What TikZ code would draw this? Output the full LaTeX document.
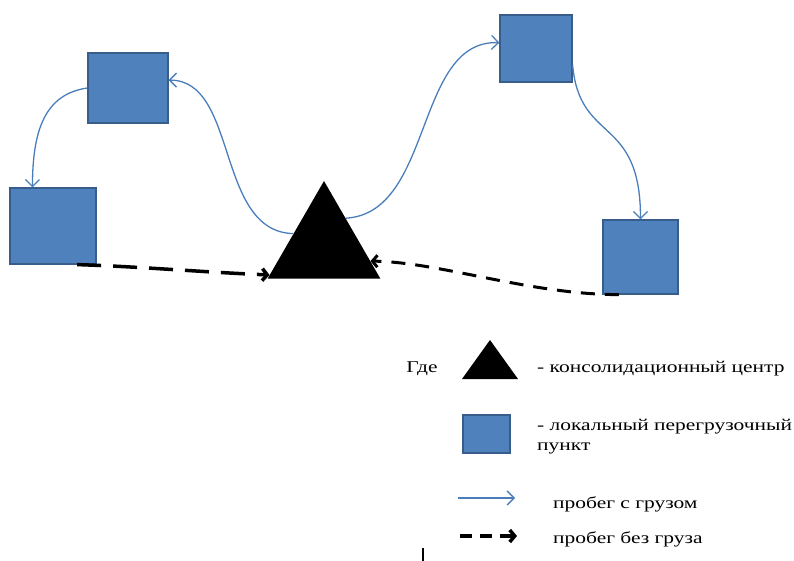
\documentclass[tikz,border=0pt]{standalone}
\usepackage{fontspec}
\setmainfont{Liberation Serif}[FakeStretch=1.3]
\usetikzlibrary{shapes.geometric, arrows.meta}
\definecolor{boxblue}{RGB}{79,129,189}
\definecolor{boxedge}{RGB}{56,93,138}
\definecolor{runblue}{RGB}{74,126,187}
\tikzset{
  depot/.style={rectangle, draw=boxedge, fill=boxblue, line width=1.2pt, inner sep=0pt},
  hub/.style={regular polygon, regular polygon sides=3, fill=black, inner sep=0pt, minimum size=130pt},
  loaded/.style={->, >={Straight Barb[length=7pt,width=14pt]}, runblue, line width=1.3pt},
  unloaded/.style={->, >={Straight Barb[length=5pt,width=12pt]}, black, line width=3pt, dash pattern=on 14pt off 10pt},
  legend/.style={inner sep=0pt, font=\fontsize{16.5}{20}\selectfont}
}

\begin{document}
\begin{tikzpicture}[x=1pt,y=-1pt]
\useasboundingbox (0,0) rectangle (794,561);
\node[depot, minimum width=80pt, minimum height=70pt] (a) at (128,88) {};
\node[depot, minimum width=86pt, minimum height=76pt] (b) at (53,226) {};
\node[depot, minimum width=72pt, minimum height=67pt] (c) at (536,48.5) {};
\node[depot, minimum width=75pt, minimum height=74pt] (d) at (640.5,257) {};
\node[hub] (hub) at (324,246) {};
\draw[loaded] (hub.158) .. controls +(-78,-2) and +(70,0) .. (a.11);
\draw[loaded] (a.west) .. controls +(-42,6) and +(0,-58) .. (b.118);
\draw[loaded] (hub.52) .. controls +(88,-5) and +(-85,-3) .. (c.171);
\draw[loaded] (c.-24) .. controls +(7,80) and +(0,-105) .. (d.north);
\draw[unloaded, line width=3.5pt, dash pattern=on 24pt off 12pt] (b.-58) .. controls +(63,2) and +(-70,-3) .. (hub.208);
\draw[unloaded] (d.-120) .. controls +(-89,0) and +(70,1) .. (hub.-18);

\node[legend] (where) at (422,369) {Где};
\fill (462,379) -- (490,340) -- (518,379) -- cycle;
\node[legend, anchor=west] (t1) at (537,369) {- консолидационный центр};
\node[depot, minimum width=47pt, minimum height=38pt] (lsq) at (486.5,434) {};
\node[legend, anchor=west, align=left] (t2) at (537,437) {- локальный перегрузочный\\пункт};
\coordinate (l1) at (458,498);
\coordinate (l2) at (515,498);
\draw[loaded] (l1) -- (l2);
\node[legend, anchor=west] (t3) at (553,504) {пробег с грузом};
\coordinate (l3) at (460,536);
\coordinate (l4) at (517,536);
\draw[unloaded, line width=3.5pt, dash pattern=on 12pt off 8pt] (l3) -- (l4);
\node[legend, anchor=west] (t4) at (553,539) {пробег без груза};
\draw[line width=1.5pt] (423,548) -- (423,561);
\end{tikzpicture}
\end{document}
